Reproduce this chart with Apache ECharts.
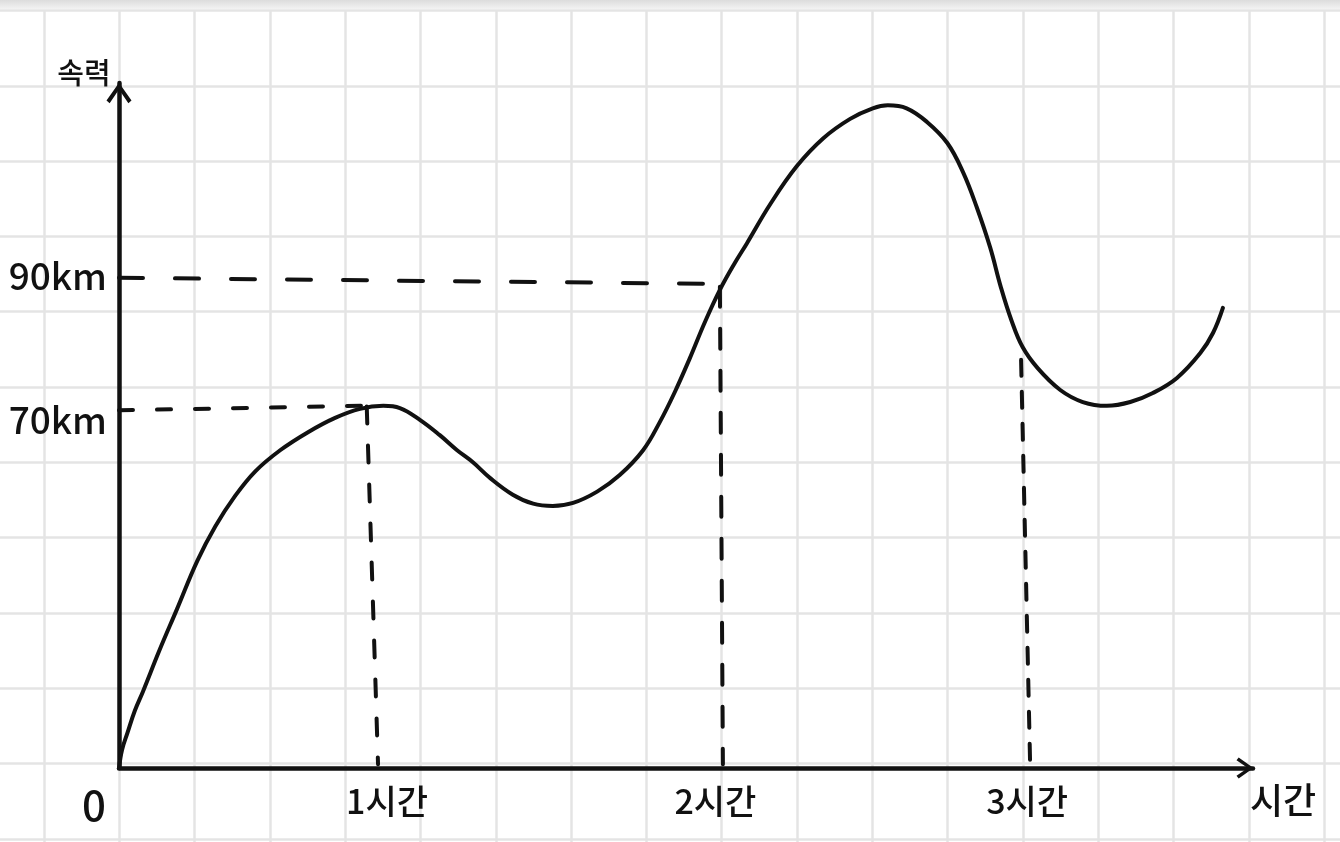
<!DOCTYPE html>
<html><head><meta charset="utf-8">
<script src="https://cdn.jsdelivr.net/npm/echarts@6/dist/echarts.min.js"></script>
<style>html,body{margin:0;padding:0;background:#fff}#c{width:1340px;height:842px}</style>
</head><body><div id="c"></div>
<script>
// Values in squares of the graph paper (1 square ≈ 75 px).
const speedCurve = [
  [0,0],[0.04,0.24],[0.11,0.46],[0.21,0.76],[0.32,1.02],[0.54,1.57],[0.77,2.11],[1.04,2.75],
  [1.28,3.21],[1.54,3.61],[1.81,3.94],[2.14,4.22],[2.51,4.46],[2.87,4.65],[3.20,4.77],[3.51,4.81],
  [3.73,4.78],[4.00,4.62],[4.26,4.42],[4.49,4.22],[4.70,4.06],[4.93,3.85],[5.23,3.63],[5.50,3.51],
  [5.76,3.48],[6.03,3.52],[6.35,3.67],[6.65,3.89],[6.96,4.22],[7.18,4.59],[7.38,4.99],[7.58,5.44],
  [7.78,5.92],[7.98,6.35],[8.18,6.71],[8.34,6.97],[8.65,7.49],[9.00,7.99],[9.35,8.36],[9.71,8.62],
  [10.01,8.76],[10.21,8.80],[10.46,8.76],[10.73,8.58],[11.00,8.30],[11.21,7.91],[11.39,7.45],
  [11.57,6.91],[11.71,6.39],[11.85,5.95],[12.00,5.59],[12.20,5.31],[12.50,5.02],[12.80,4.86],
  [13.12,4.81],[13.43,4.86],[13.73,4.98],[14.05,5.18],[14.36,5.51],[14.53,5.78],[14.66,6.11]
];
const guide70 = [[0,4.75],[3.22,4.81]];
const drop1h  = [[3.29,4.80],[3.44,0.05]];
const guide90 = [[0,6.51],[7.87,6.43]];
const drop2h  = [[7.98,6.39],[8.02,0.05]];
const drop3h  = [[11.98,5.42],[12.10,0.05]];

const xTickValues = [0, 3.56, 7.92, 12.06];
const xTickLabels = ['0', '1시간', '2시간', '3시간'];
const yTickValues = [4.62, 6.53];
const yTickLabels = ['70km', '90km'];
const xAxisTitle = '시간';
const yAxisTitle = '속력';

const CELL = 75.3;
const FONT = "'Noto Sans CJK KR', 'Noto Sans', sans-serif";
const INK = '#111';
const chevron = 'path://M12,0 L24,17 L21,19.5 L12,6.5 L3,19.5 L0,17 Z';

function guide(data, dash) {
  return {
    type: 'line', xAxisIndex: 1, yAxisIndex: 1, data: data, showSymbol: false, silent: true,
    lineStyle: { color: INK, width: 4, type: dash, cap: 'round' }, z: 3
  };
}

const chart = echarts.init(document.getElementById('c'));
chart.setOption({
  animation: false,
  backgroundColor: '#fff',
  graphic: [{
    type: 'rect', left: 0, top: 0, shape: { width: 1340, height: 9 }, silent: true, z: 10,
    style: { fill: new echarts.graphic.LinearGradient(0, 0, 0, 1, [
      { offset: 0, color: '#dcdcdc' }, { offset: 1, color: '#f3f3f3' }]) }
  }],
  grid: [
    { left: 44 - CELL, top: 10.5, width: CELL * 19, height: CELL * 12, outerBoundsMode: 'none', containLabel: false },
    { left: 119, top: 83, width: 1134, height: 685, outerBoundsMode: 'none', containLabel: false }
  ],
  xAxis: [
    { type: 'value', gridIndex: 0, min: 0, max: 19, interval: 1,
      axisLine: { show: false }, axisTick: { show: false }, axisLabel: { show: false },
      splitLine: { show: true, lineStyle: { color: '#e4e4e4', width: 2.5 } } },
    { type: 'value', gridIndex: 1, min: 0, max: 1134 / CELL,
      name: xAxisTitle, nameLocation: 'end', nameGap: 30,
      nameTextStyle: { fontFamily: FONT, fontSize: 36, fontWeight: 500, color: INK, align: 'center', verticalAlign: 'top', padding: [14, 0, 0, 0] },
      axisLine: { show: true, symbol: ['none', chevron], symbolSize: [25, 17], symbolOffset: [0, -8],
        lineStyle: { color: INK, width: 4.5 } },
      axisTick: { show: false }, splitLine: { show: false },
      axisLabel: {
        customValues: xTickValues, margin: 16, color: INK, fontFamily: FONT, fontSize: 34, fontWeight: 500,
        formatter: function (v) {
          const i = xTickValues.indexOf(v);
          if (i === 0) return '{z|' + xTickLabels[0] + '}';
          return i >= 0 ? xTickLabels[i] : '';
        },
        rich: { z: { fontFamily: FONT, fontSize: 42, fontWeight: 500, color: INK, padding: [0, 50, 0, 0] } }
      } }
  ],
  yAxis: [
    { type: 'value', gridIndex: 0, min: 0, max: 12, interval: 1,
      axisLine: { show: false }, axisTick: { show: false }, axisLabel: { show: false },
      splitLine: { show: true, lineStyle: { color: '#e4e4e4', width: 2.5 } } },
    { type: 'value', gridIndex: 1, min: 0, max: 685 / CELL,
      name: yAxisTitle, nameLocation: 'end', nameGap: 10,
      nameTextStyle: { fontFamily: FONT, fontSize: 29, fontWeight: 500, color: INK, verticalAlign: 'middle', padding: [0, 70, 0, 0] },
      axisLine: { show: true, symbol: ['none', chevron], symbolSize: [25, 21], symbolOffset: [0, -10],
        lineStyle: { color: INK, width: 4.5 } },
      axisTick: { show: false }, splitLine: { show: false },
      axisLabel: {
        customValues: yTickValues, margin: 12, color: INK, fontFamily: FONT, fontSize: 37, fontWeight: 500,
        formatter: function (v) { const i = yTickValues.indexOf(v); return i >= 0 ? yTickLabels[i] : ''; }
      } }
  ],
  series: [
    { type: 'line', xAxisIndex: 1, yAxisIndex: 1, data: speedCurve, showSymbol: false, smooth: 0.4,
      lineStyle: { color: INK, width: 4, cap: 'round', join: 'round' }, z: 4 },
    guide(guide70, [14, 24]),
    guide(drop1h, [17, 22]),
    guide(guide90, [24, 32]),
    guide(drop2h, [20, 22]),
    guide(drop3h, [16, 16])
  ]
});
</script></body></html>
